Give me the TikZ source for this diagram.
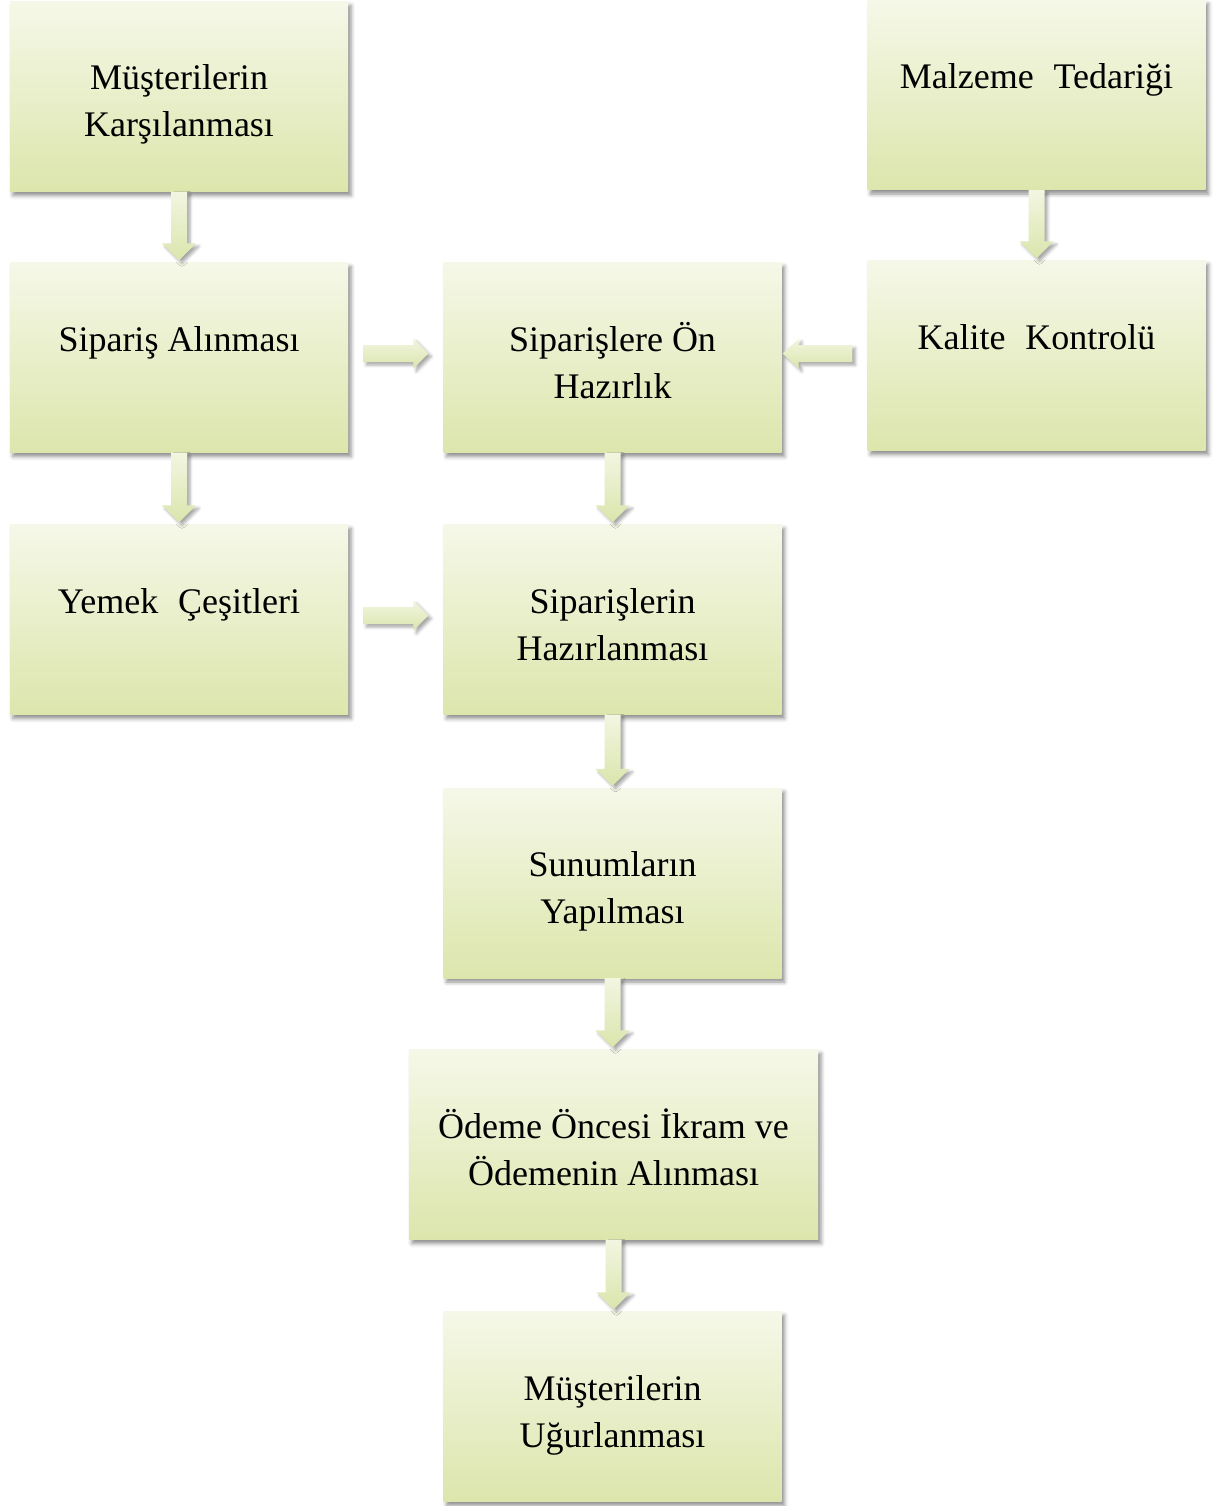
\documentclass[tikz,border=0pt]{standalone}
\usepackage{fontspec}
\setmainfont{Liberation Serif}
\usetikzlibrary{calc,shadows.blur}
\definecolor{gTop}{RGB}{245,248,232}
\definecolor{gBot}{RGB}{220,230,172}
\definecolor{aTop}{RGB}{242,246,225}
\definecolor{aBot}{RGB}{218,229,172}
\newcommand\wsp{\hspace{0.55em}}
\tikzset{
  box/.style={rectangle, inner sep=0pt, top color=gTop, bottom color=gBot,
    minimum width=338pt, minimum height=190pt, align=center,
    text height=101pt, text depth=20pt,
    font=\fontsize{36}{47}\selectfont,
    blur shadow={shadow xshift=3pt, shadow yshift=-4pt, shadow blur radius=4pt, shadow opacity=45}},
  blockarrow/.style={top color=aTop, bottom color=aBot,
    blur shadow={shadow xshift=3pt, shadow yshift=-3pt, shadow blur radius=3pt, shadow opacity=35}}
}
\newcommand\dnarrow[2]{%
  \path[blockarrow] ($(#1.south)+(-8,0)$) -- ($(#1.south)+(8,0)$) -- ($(#1.south |- #2.north)+(8,19)$)
    -- ($(#1.south |- #2.north)+(17,19)$) -- ($(#1.south |- #2.north)+(0,2)$) -- ($(#1.south |- #2.north)+(-17,19)$)
    -- ($(#1.south |- #2.north)+(-8,19)$) -- cycle;}
\newcommand\rtarrow[2]{%
  \path[blockarrow] ($(#1.east)+(15,12.5)$) -- ($(#2.west |- #1.east)+(-30,12.5)$) -- ($(#2.west |- #1.east)+(-30,19)$)
    -- ($(#2.west |- #1.east)+(-15,4)$) -- ($(#2.west |- #1.east)+(-30,-11)$) -- ($(#2.west |- #1.east)+(-30,-4.5)$)
    -- ($(#1.east)+(15,-4.5)$) -- cycle;}
\newcommand\ltarrow[2]{%
  \path[blockarrow] ($(#1.west)+(-15,10.5)$) -- ($(#2.east |- #1.west)+(17,10.5)$) -- ($(#2.east |- #1.west)+(17,17)$)
    -- ($(#2.east |- #1.west)+(1,2)$) -- ($(#2.east |- #1.west)+(17,-13)$) -- ($(#2.east |- #1.west)+(17,-6.5)$)
    -- ($(#1.west)+(-15,-6.5)$) -- cycle;}
\begin{document}
\begin{tikzpicture}[x=1pt,y=1pt]
\useasboundingbox (0,0) rectangle (1213,-1506);
\node[box] (a1) at (179,-96.5) {Müşterilerin\\Karşılanması};
\node[box] (a2) at (179,-357.5) {Sipariş Alınması\\\mbox{}};
\node[box] (a3) at (179,-619.5) {Yemek\wsp Çeşitleri\\\mbox{}};
\node[box] (b2) at (612.5,-357.5) {Siparişlere Ön\\Hazırlık};
\node[box] (b3) at (612.5,-619.5) {Siparişlerin\\Hazırlanması};
\node[box] (b4) at (612.5,-883) {Sunumların\\Yapılması};
\node[box, minimum width=409pt] (b5) at (613.5,-1144.5) {Ödeme Öncesi İkram ve\\Ödemenin Alınması};
\node[box] (b6) at (612.5,-1406.5) {Müşterilerin\\Uğurlanması};
\node[box] (c1) at (1036.5,-95) {Malzeme\wsp Tedariği\\\mbox{}};
\node[box] (c2) at (1036.5,-355.5) {Kalite\wsp Kontrolü\\\mbox{}};
\dnarrow{a1}{a2}
\dnarrow{a2}{a3}
\dnarrow{b2}{b3}
\dnarrow{b3}{b4}
\dnarrow{b4}{b5}
\dnarrow{b5}{b6}
\dnarrow{c1}{c2}
\rtarrow{a2}{b2}
\rtarrow{a3}{b3}
\ltarrow{c2}{b2}
\end{tikzpicture}
\end{document}
